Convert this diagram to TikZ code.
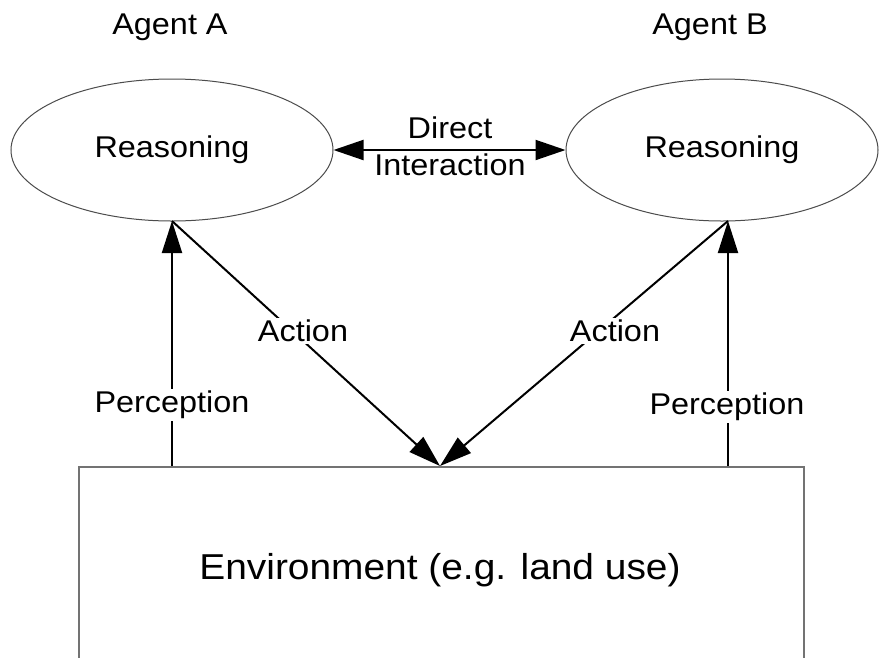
\documentclass[tikz,border=0pt]{standalone}
\usepackage{fontspec}
\setmainfont{Liberation Sans}[FakeStretch=1.08]
\usetikzlibrary{shapes.geometric,arrows.meta}

\tikzset{
  lbl/.style={font=\fontsize{30}{37}\selectfont, inner sep=2pt},
  agentbox/.style={ellipse, draw=black!70, line width=1pt,
    minimum width=322pt, minimum height=142pt,
    font=\fontsize{30}{37}\selectfont},
  envbox/.style={rectangle, draw=black!55, line width=1.5pt, anchor=north west,
    minimum width=725pt, minimum height=260pt},
  link/.style={line width=2pt, -{Triangle[length=32pt,width=20pt]}},
  dlink/.style={line width=2pt, {Triangle[length=30pt,width=20pt]}-{Triangle[length=30pt,width=20pt]}},
  cut/.style={lbl, fill=white}
}

\begin{document}
\begin{tikzpicture}[x=1pt,y=-1pt]
\useasboundingbox (0,0) rectangle (880,657);
\clip (0,0) rectangle (880,657);
\fill[white] (0,0) rectangle (880,657);

% agents and their environment
\node[agentbox] (A) at (172,150) {Reasoning};
\node[agentbox, minimum width=312pt] (B) at (722,150) {Reasoning};
\node[envbox] (env) at (78,466) {};
\node[font=\fontsize{36}{42}\selectfont] (envtxt) at (440,570) {Environment (e.g. land use)};

\node[lbl] (agA) at (170,27) {Agent A};
\node[lbl] (agB) at (710,27) {Agent B};

% anchor points on the shapes
\coordinate (sA) at (172,221);
\coordinate (sB) at (728,221);
\coordinate (pA) at (172,466);
\coordinate (pB) at (728,466);
\coordinate (hit) at (440,466);

% perception and action connectors
\draw[link] (pA) -- (sA);
\draw[link] (pB) -- (sB);
\draw[link] (sA) -- (hit);
\draw[link] (sB) -- (hit);

% direct interaction between agents
\draw[dlink] (A.east) -- (B.west);
\node[lbl, align=center] (di) at (450,146) {Direct\\Interaction};

% connector labels
\node[cut] (actA) at (303,331) {Action};
\node[cut] (actB) at (615,331) {Action};
\node[cut] (perA) at (172,405) {Perception};
\node[cut] (perB) at (727,407) {Perception};
\end{tikzpicture}
\end{document}
